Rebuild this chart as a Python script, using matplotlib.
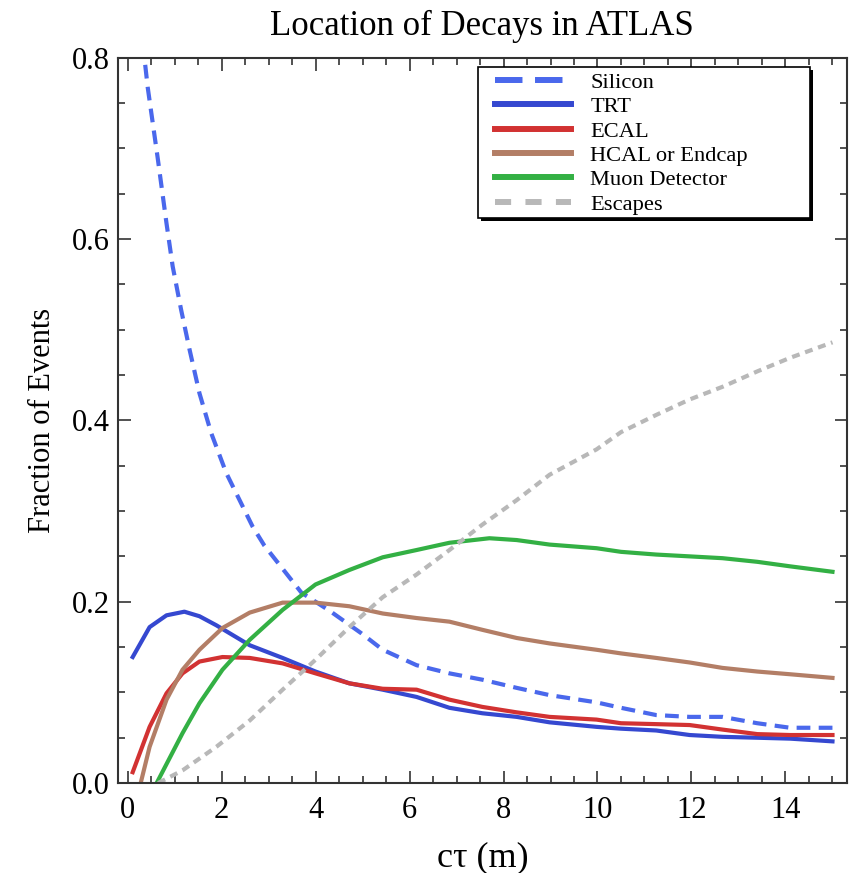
import matplotlib
matplotlib.use("Agg")
import matplotlib.pyplot as plt
from matplotlib.ticker import MultipleLocator, FormatStrFormatter
from matplotlib.patches import Rectangle

plt.rcParams['font.family'] = ['Liberation Serif', 'DejaVu Serif']

title = "Location of Decays in ATLAS"
xlabel = "cτ (m)"
ylabel = "Fraction of Events"

silicon_x = [0.1, 0.43, 0.64, 0.83, 0.96, 1.14, 1.32, 1.53, 1.78, 2.10, 2.66, 2.91, 3.70, 4.3, 4.98, 5.43,
             6.15, 6.85, 7.55, 8.28, 8.98, 9.98, 10.5, 11.25, 11.96, 12.66, 13.4, 14.1, 15.0]
silicon_y = [0.92, 0.767, 0.690, 0.617, 0.570, 0.522, 0.478, 0.430, 0.386, 0.342, 0.283, 0.262, 0.21, 0.19, 0.165, 0.147,
             0.130, 0.121, 0.114, 0.105, 0.097, 0.089, 0.083, 0.075, 0.073, 0.073, 0.066, 0.061, 0.061]

trt_x = [0.11, 0.47, 0.83, 1.21, 1.53, 1.89, 2.6, 3.3, 4.0, 4.72, 5.43, 6.15, 6.85, 7.55,
         8.28, 8.98, 9.98, 10.5, 11.25, 11.96, 12.66, 13.4, 14.1, 15.0]
trt_y = [0.139, 0.172, 0.185, 0.189, 0.184, 0.174, 0.152, 0.138, 0.123, 0.110, 0.103, 0.095, 0.083, 0.077,
         0.073, 0.067, 0.062, 0.060, 0.058, 0.053, 0.051, 0.050, 0.049, 0.046]

ecal_x = [0.11, 0.47, 0.83, 1.17, 1.53, 2.02, 2.6, 3.3, 4.0, 4.72, 5.43, 6.15, 6.85, 7.55,
          8.28, 8.98, 9.98, 10.5, 11.25, 11.96, 12.66, 13.4, 14.1, 15.0]
ecal_y = [0.012, 0.062, 0.099, 0.121, 0.134, 0.139, 0.138, 0.132, 0.121, 0.110, 0.104, 0.103, 0.092, 0.084,
          0.078, 0.073, 0.070, 0.066, 0.065, 0.064, 0.059, 0.054, 0.053, 0.053]

hcal_x = [0.28, 0.47, 0.83, 1.17, 1.53, 2.02, 2.6, 3.3, 4.0, 4.72, 5.43, 6.15, 6.85, 7.55,
          8.28, 8.98, 9.98, 10.5, 11.25, 11.96, 12.66, 13.4, 14.1, 15.0]
hcal_y = [0.0, 0.040, 0.092, 0.125, 0.147, 0.171, 0.188, 0.199, 0.199, 0.195, 0.187, 0.182, 0.178, 0.169,
          0.160, 0.154, 0.147, 0.143, 0.138, 0.133, 0.127, 0.123, 0.120, 0.116]

muon_x = [0.62, 1.17, 1.53, 2.02, 2.6, 3.3, 4.0, 4.72, 5.43, 6.15, 6.85, 7.7, 8.28, 8.98,
          9.98, 10.5, 11.25, 11.96, 12.66, 13.4, 14.1, 15.0]
muon_y = [0.0, 0.055, 0.088, 0.125, 0.158, 0.191, 0.219, 0.235, 0.249, 0.257, 0.265, 0.270, 0.268, 0.263,
          0.259, 0.255, 0.252, 0.250, 0.248, 0.244, 0.239, 0.233]

esc_x = [0.65, 1.17, 1.89, 2.6, 3.3, 4.0, 4.72, 5.43, 6.15, 6.85, 7.55, 8.28, 8.98, 9.98,
         10.5, 11.25, 11.96, 12.66, 13.4, 14.1, 15.0]
esc_y = [0.0, 0.014, 0.040, 0.069, 0.103, 0.136, 0.172, 0.205, 0.230, 0.257, 0.285, 0.312, 0.340, 0.368,
         0.387, 0.406, 0.423, 0.437, 0.454, 0.469, 0.486]

labels = ["Silicon", "TRT", "ECAL", "HCAL or Endcap", "Muon Detector", "Escapes"]
colors = ['#4a68ec', '#3548d0', '#d23232', '#b37e66', '#33b044', '#b8b8b8']

fig = plt.figure(figsize=(8.56, 8.73), dpi=100)
ax = fig.add_axes([0.138, 0.103, 0.851, 0.831])

lw = 3.0
ax.plot(silicon_x, silicon_y, color=colors[0], lw=lw, dashes=(3.3, 2.0), label=labels[0])
ax.plot(trt_x, trt_y, color=colors[1], lw=lw, label=labels[1])
ax.plot(ecal_x, ecal_y, color=colors[2], lw=lw, label=labels[2])
ax.plot(hcal_x, hcal_y, color=colors[3], lw=lw, label=labels[3])
ax.plot(muon_x, muon_y, color=colors[4], lw=lw, label=labels[4])
ax.plot(esc_x, esc_y, color=colors[5], lw=lw, dashes=(1.9, 1.4), label=labels[5])

ax.set_xlim(-0.2, 15.3)
ax.set_ylim(0, 0.8)
ax.xaxis.set_major_locator(MultipleLocator(2))
ax.xaxis.set_minor_locator(MultipleLocator(0.5))
ax.yaxis.set_major_locator(MultipleLocator(0.2))
ax.yaxis.set_minor_locator(MultipleLocator(0.05))
ax.yaxis.set_major_formatter(FormatStrFormatter('%.1f'))
ax.tick_params(which='both', direction='in', top=True, right=True, width=1.2, color='#333333')
ax.tick_params(which='major', length=9, labelsize=22)
ax.tick_params(axis='x', which='major', pad=9)
ax.tick_params(axis='y', which='major', pad=6)
ax.tick_params(which='minor', length=5)
for s in ax.spines.values():
    s.set_linewidth(1.5)
    s.set_color('#333333')

ax.set_title(title, fontsize=25, pad=16)
ax.set_xlabel(xlabel, fontsize=26, labelpad=12)
ax.set_ylabel(ylabel, fontsize=22, labelpad=11)

# legend box with drop shadow
bx0, bx1, by0, by1 = 0.4938, 0.9492, 0.7793, 0.9876
sh = 0.0045
ax.add_patch(Rectangle((bx0 + sh, by0 - sh), bx1 - bx0, by1 - by0, transform=ax.transAxes,
                       facecolor='black', edgecolor='black', lw=0, zorder=9, clip_on=False))
ax.add_patch(Rectangle((bx0, by0), bx1 - bx0, by1 - by0, transform=ax.transAxes,
                       facecolor='white', edgecolor='black', lw=1.2, zorder=9.5, clip_on=False))

leg = ax.legend(loc='upper left', bbox_to_anchor=(0.517, 0.980), fontsize=16.2,
                handlelength=3.4, handletextpad=0.85, borderpad=0.0, borderaxespad=0.0,
                labelspacing=0.16, frameon=False)
leg.set_zorder(10)
for line in leg.get_lines():
    line.set_linewidth(4.3)
leg.get_lines()[0].set_dashes((4.6, 2.1))
leg.get_lines()[5].set_dashes((2.7, 2.4))

fig.savefig("out.png", dpi=100)
